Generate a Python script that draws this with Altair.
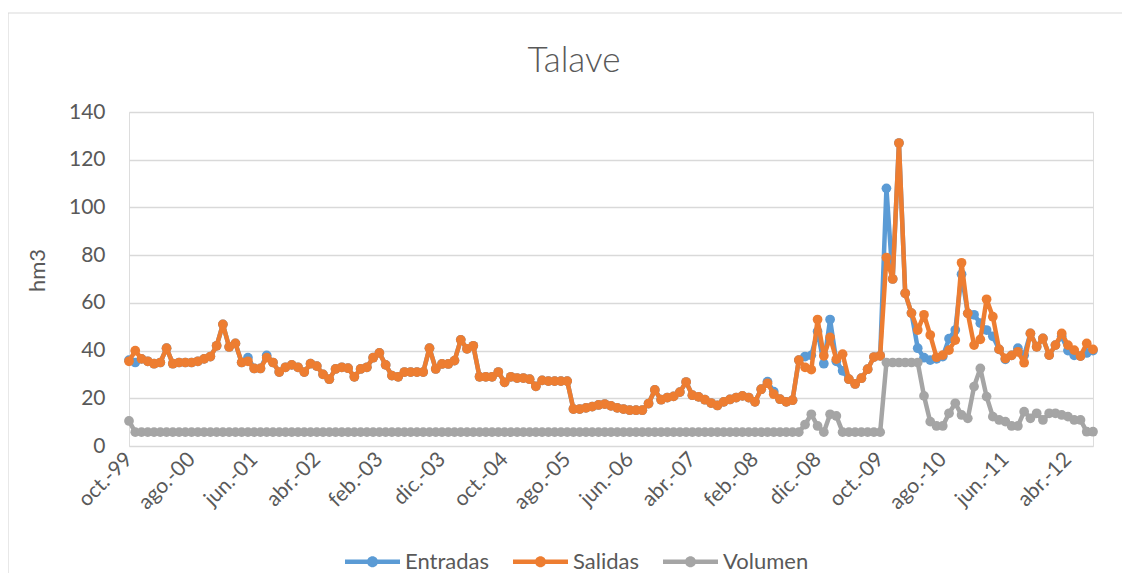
import json
import altair as alt
import pandas as pd

tick_labels = ["oct.-99", "ago.-00", "jun.-01", "abr.-02", "feb.-03", "dic.-03",
               "oct.-04", "ago.-05", "jun.-06", "abr.-07", "feb.-08", "dic.-08",
               "oct.-09", "ago.-10", "jun.-11", "abr.-12"]

series_names = ["Entradas", "Salidas", "Volumen"]
series_colors = ["#5B9BD5", "#ED7D31", "#A5A5A5"]

entradas = [
    36, 35, 36.5, 35.5, 34.5, 35, 41, 34.5, 35, 35,
    35, 35.5, 36.5, 37.5, 42, 51, 41.5, 43, 35, 37,
    32.5, 32.5, 38, 35, 31, 33, 34, 33, 31, 34.5,
    33.5, 30, 28, 32.3, 33, 32.6, 29, 32.3, 33, 37,
    39, 34, 29.5, 29, 31, 31, 31, 31, 41, 32.3,
    34.4, 34.4, 35.8, 44.5, 40.7, 42, 29, 29, 29, 31,
    26.7, 29, 28.5, 28.5, 28, 25, 27.5, 27.2, 27.2, 27.2,
    27.2, 15.5, 15.5, 16, 16.5, 17.2, 17.6, 16.8, 16, 15.5,
    15, 15, 15, 17.8, 23.5, 19.4, 20.3, 20.8, 22.6, 26.8,
    21.3, 20.6, 19.4, 18, 17, 18.5, 19.5, 20.3, 21, 20.3,
    18.5, 23.8, 27, 22.8, 19.6, 18.5, 19.2, 36, 37.5, 38,
    48, 34.5, 53, 35.5, 31.5, 28, 26, 28.4, 32.2, 37.3,
    37.8, 108, 70, 127, 64, 55.7, 41, 37, 36, 36.5,
    37.5, 45, 48.6, 72, 55.6, 55, 51.5, 48.6, 46, 40.5,
    36.3, 38, 41, 38, 47.2, 41.6, 45.1, 38.1, 42.3, 46,
    40, 38, 37.7, 39, 40,
]

salidas = [
    35.5, 40, 36.5, 35.5, 34.5, 35, 41, 34.5, 35, 35,
    35, 35.5, 36.5, 37.5, 42, 51, 41.5, 43, 35, 35.5,
    32.5, 32.5, 37, 35, 31, 33, 34, 33, 31, 34.5,
    33.5, 30, 28, 32.3, 33, 32.6, 29, 32.3, 33, 37,
    39, 34, 29.5, 29, 31, 31, 31, 31, 41, 32.3,
    34.4, 34.4, 35.8, 44.5, 40.7, 42, 29, 29, 29, 31,
    26.7, 29, 28.5, 28.5, 28, 25, 27.5, 27.2, 27.2, 27.2,
    27.2, 15.5, 15.5, 16, 16.5, 17.2, 17.6, 16.8, 16, 15.5,
    15, 15, 15, 17.8, 23.5, 19.4, 20.3, 20.8, 22.6, 26.8,
    21.3, 20.6, 19.4, 18, 17, 18.5, 19.5, 20.3, 21, 20.3,
    18.5, 23.8, 26.3, 21.7, 19.6, 18.5, 19.2, 36, 33, 32,
    53, 37.8, 45.5, 36.4, 38.5, 28, 26, 28.4, 32.2, 37.3,
    37.8, 79, 70, 127, 64, 55.7, 48.6, 55, 46.5, 37.2,
    38.1, 40.2, 44.4, 76.8, 55.6, 42.3, 44.7, 61.5, 54.2, 40.5,
    36.7, 38, 39.5, 34.9, 47.2, 41.6, 45.1, 38.1, 42.3, 47.2,
    42.3, 40.2, 37.7, 43, 40.5,
]

volumen = [
    10.5, 5.8, 5.8, 5.8, 5.8, 5.8, 5.8, 5.8, 5.8, 5.8,
    5.8, 5.8, 5.8, 5.8, 5.8, 5.8, 5.8, 5.8, 5.8, 5.8,
    5.8, 5.8, 5.8, 5.8, 5.8, 5.8, 5.8, 5.8, 5.8, 5.8,
    5.8, 5.8, 5.8, 5.8, 5.8, 5.8, 5.8, 5.8, 5.8, 5.8,
    5.8, 5.8, 5.8, 5.8, 5.8, 5.8, 5.8, 5.8, 5.8, 5.8,
    5.8, 5.8, 5.8, 5.8, 5.8, 5.8, 5.8, 5.8, 5.8, 5.8,
    5.8, 5.8, 5.8, 5.8, 5.8, 5.8, 5.8, 5.8, 5.8, 5.8,
    5.8, 5.8, 5.8, 5.8, 5.8, 5.8, 5.8, 5.8, 5.8, 5.8,
    5.8, 5.8, 5.8, 5.8, 5.8, 5.8, 5.8, 5.8, 5.8, 5.8,
    5.8, 5.8, 5.8, 5.8, 5.8, 5.8, 5.8, 5.8, 5.8, 5.8,
    5.8, 5.8, 5.8, 5.8, 5.8, 5.8, 5.8, 5.8, 9, 13.3,
    8.4, 5.8, 13.3, 12.6, 5.8, 5.8, 5.8, 5.8, 5.8, 5.8,
    5.8, 35, 35, 35, 35, 35, 35, 21, 10.2, 8.4,
    8.4, 13.7, 17.9, 13, 11.6, 24.9, 32.5, 20.7, 12.3, 10.9,
    10.2, 8.4, 8.4, 14.4, 11.6, 13.7, 10.9, 13.7, 13.7, 13,
    12.3, 10.9, 10.9, 6, 6,
]

rows = []
for name, vals in zip(series_names, [entradas, salidas, volumen]):
    for i, v in enumerate(vals):
        rows.append({"mes": i, "serie": name, "valor": v})
df = pd.DataFrame(rows)
n = len(salidas)

FONT = "Lato"
TXT = "#595959"
GRID = "#D9D9D9"

label_expr = json.dumps(tick_labels) + "[round(datum.value / 10)]"

x_enc = alt.X(
    "mes:Q",
    scale=alt.Scale(domain=[0, n - 1], nice=False, zero=False),
    axis=alt.Axis(values=list(range(0, 151, 10)), labelExpr=label_expr,
                  labelAngle=-45, labelAlign="right", labelBaseline="middle",
                  labelPadding=10, labelFontSize=21, labelColor=TXT, labelFont=FONT,
                  grid=False, ticks=False, domain=False, title=None,
                  labelOverlap=False, labelFlush=False),
)
y_enc = alt.Y(
    "valor:Q",
    scale=alt.Scale(domain=[0, 140], nice=False),
    axis=alt.Axis(values=list(range(0, 141, 20)), title="hm3", titleFontSize=22,
                  titleFont=FONT, titleColor=TXT, titleFontWeight="normal",
                  titleX=-80, titleY=158, titleAngle=-90, titleAlign="center",
                  labelFontSize=21, labelColor=TXT, labelFont=FONT, labelPadding=24,
                  grid=True, gridColor=GRID, gridWidth=1.5, ticks=False, domain=False),
)

legend_symbol = ("M-1,-0.08L1,-0.08L1,0.08L-1,0.08Z "
                 "M-0.2,0A0.2,0.2,0,1,1,0.2,0A0.2,0.2,0,1,1,-0.2,0Z")

color_enc = alt.Color(
    "serie:N",
    scale=alt.Scale(domain=series_names, range=series_colors),
    legend=alt.Legend(title=None, orient="none", legendX=216, legendY=422,
                      direction="horizontal", symbolType=legend_symbol,
                      symbolSize=3025, symbolStrokeWidth=0,
                      labelFontSize=22, labelFont=FONT, labelColor=TXT,
                      labelOffset=5, columnPadding=24),
)

base = alt.Chart(df)
layers = []
for name, col in zip(series_names, series_colors):
    sub = base.transform_filter(alt.datum.serie == name)
    layers.append(sub.mark_line(color=col, strokeWidth=4.5, strokeJoin="round",
                                strokeCap="round").encode(x=x_enc, y=y_enc))
    layers.append(sub.mark_point(filled=True, opacity=1, size=95).encode(
        x=x_enc, y=y_enc, color=color_enc))

border = alt.Chart(pd.DataFrame({"a": [0]})).mark_rect(
    fillOpacity=0, stroke=GRID, strokeWidth=1.2
).encode(x=alt.value(-121), x2=alt.value(1010), y=alt.value(-99), y2=alt.value(490))

chart = alt.layer(border, *layers).properties(
    width=964, height=334,
    title=alt.TitleParams("Talave", fontSize=35, font=FONT, color=TXT,
                          fontWeight=300, anchor="middle", dx=-37,
                          baseline="alphabetic", offset=-95),
    autosize=alt.AutoSizeParams(type="none"),
    padding={"left": 121, "top": 104, "right": 29, "bottom": 127},
).configure_view(strokeOpacity=0).configure(background="white")

chart.save("out.html", embed_options={"renderer": "svg", "actions": False})
